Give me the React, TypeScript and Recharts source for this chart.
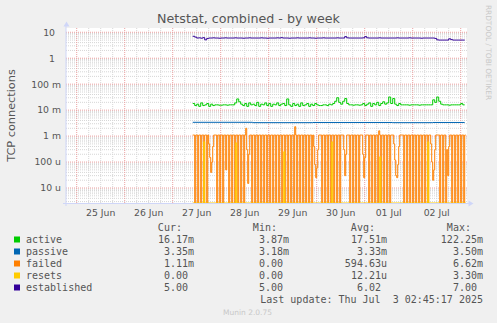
import React from 'react';
import { LineChart, Line, XAxis, YAxis, CartesianGrid } from 'recharts';

// ---------- chart constants ----------
const W = 497;
const H = 323;
const FONT = 'DejaVu Sans';
const MONO = 'DejaVu Sans Mono';
const TEXT = '#555555';

// time axis: days counted from 25 Jun 00:00
const xDomain: [number, number] = [-0.223, 8.131];
const yDomain: [number, number] = [2.65e-6, 14.6];
const dataStart = 2.4167; // 27 Jun ~10:00

const dayLabels = ['25 Jun', '26 Jun', '27 Jun', '28 Jun', '29 Jun', '30 Jun', '01 Jul', '02 Jul'];
const dayLabelTicks = [0.5, 1.5, 2.5, 3.5, 4.5, 5.5, 6.5, 7.5];
const yTicks = [1e-5, 1e-4, 1e-3, 1e-2, 1e-1, 1, 10];
const yTickLabels = ['10 u', '100 u', '1 m', '10 m', '100 m', '1', '10'];

// ---------- series ----------
// active, hourly, in milli-connections
const activeMilli = [
  18, 15, 17, 14, 19, 15, 16, 18, 14, 17, 15,
  16, 16, 15.5, 15.5, 16, 16, 15.5, 16, 16, 16,
  19, 27, 21, 17,
  15, 18, 14, 19, 16, 17, 15, 20, 14, 17, 16, 19, 15, 18, 14, 17, 16, 19, 15, 17, 18, 15,
  27,
  16, 14, 18, 15, 17, 14, 19, 15, 16, 18, 14, 17, 15, 18, 16, 15,
  15, 16, 16, 15, 17, 16,
  18, 22, 30, 20, 17, 22, 28, 18,
  16, 16, 15.5, 16, 16, 15.5, 16,
  18, 15, 17, 19, 14, 18, 16, 20, 15, 18, 21, 17, 19,
  32, 18, 28,
  17, 15, 18, 16,
  16, 16, 16, 15.5, 16, 16, 16, 16, 15.5, 16, 16, 16, 16, 16, 16,
  25, 20, 32, 22,
  17, 16, 16, 16, 15.5, 16, 16, 16, 16, 16, 18, 16, 16,
];

// passive, step points: [hour index, milli]
const passivePoints: [number, number][] = [
  [0, 3.4], [30, 3.3], [60, 3.35], [100, 3.3], [120, 3.35], [136, 3.35],
];

// failed, every 30 minutes, in milli
const failedMilli = [
  1.1, 1.1, 0, 1.1, 1.1, 0, 1.1, 1.1, 0, 1.1, 1.1, 0, 1.1, 1.1, 0,
  1.1, 0.5, 0.15, 0.04, 0.1, 0.4, 1.1,
  1.1, 1.1, 0, 1.1, 1.1, 0, 1.1, 1.1, 0, 1.1, 1.1, 0.05, 1.1, 1.1, 0, 1.1, 1.1, 0, 1.1, 1.1, 0, 1.1, 1.1, 0, 1.1, 1.1, 0, 1.1, 1.1, 0, 1.1,
  2.0,
  0.3, 0.015, 0.2,
  1.1, 1.1, 0, 1.1, 1.1, 0, 1.1, 1.1, 0, 1.1, 1.1, 0, 1.1, 1.1, 0, 1.1, 1.1, 0, 1.1, 1.1, 0, 1.1, 1.1, 0, 1.1, 1.1, 0, 1.1, 1.1, 0,
  1.1, 1.1, 0, 1.1, 1.1, 0, 1.1, 1.1, 0, 1.1, 1.1, 0, 1.1, 1.1, 0, 2.3, 1.1, 0, 1.1, 1.1, 0, 1.1, 1.1, 0, 1.1, 1.1, 0, 1.1, 1.1, 0, 1.1, 1.1, 0,
  1.1, 0.4, 0.08, 0.025, 0.06, 0.3, 1.1,
  1.1, 1.1, 0, 1.1, 1.1, 0, 1.1, 1.1, 0, 1.1, 1.1, 0, 1.1, 1.1, 0, 1.1, 1.1, 0, 1.1, 1.1, 0, 1.1, 1.1,
  1.1, 0.3, 0.03, 0.2, 1.1,
  1.1, 1.1, 0, 1.1, 1.1, 0, 1.1, 1.1, 0, 1.1, 1.1, 0, 1.1, 1.1,
  1.1, 0.2, 0.025, 0.15, 1.1,
  1.1, 1.1, 0, 1.1, 1.1, 0, 1.1, 1.1, 0, 1.1, 1.1, 0, 1.6, 1.1, 0, 1.1, 1.1, 0, 1.1, 1.1, 0, 1.1, 1.1, 0, 1.1,
  1.1, 1.1, 0.5, 0.12, 0.03, 0.025, 0.08, 0.4, 1.1, 1.1,
  1.1, 1.1, 0, 1.1, 1.1, 0, 1.1, 1.1, 0, 1.1, 1.1, 0, 1.1, 1.1, 0, 1.1, 1.1, 0, 1.1, 1.1, 0, 1.1, 1.1, 0, 1.1, 1.1, 0, 1.1,
  1.1, 0.5, 0.1, 0.02, 0.05, 0.3, 1.1, 1.1,
  1.1, 1.1, 0, 1.1, 1.1, 0, 1.1, 1.1, 0,
  0.3, 0.03, 0.4,
  1.1, 1.1, 0, 1.1, 1.1, 0, 1.1, 1.1, 0, 1.1, 1.1, 0, 1.1, 1.1, 0, 1.1, 1.1,
];

// resets, step points: [half-hour index, milli]
const resetsPoints: [number, number][] = [
  [0, 0], [11, 0.6], [12, 0], [43, 0.55], [44, 0], [91, 0.25], [92, 0],
  [139, 0.6], [140, 0], [187, 0.16], [188, 0], [235, 0.6], [236, 0], [273, 0],
];

// established, hourly
const established = [
  7, 6.5, 6, 6.1, 5.9, 6.2, 5.1, 5.8, 6, 6,
  6.1, 6, 6, 5.9, 6, 6, 6.1, 6, 6, 6,
  6, 6.1, 6, 6, 6, 5.9, 6, 6, 6.1, 6,
  6, 6, 6, 6, 6.1, 6, 6, 5.9, 6, 6,
  6, 6, 6.1, 6, 6.2, 6, 6, 6, 5.9, 6,
  6, 6, 6.1, 6, 6, 6, 6, 6, 6.1, 6,
  6, 5.9, 6, 6, 6, 6.1, 6, 6, 6, 6,
  6, 6, 6.1, 6, 6, 6, 6.8, 6.1, 6, 6,
  6, 6, 6, 6, 6, 6.1, 6.8, 6.1, 6, 6,
  6, 6, 6, 6.1, 6, 6, 6, 6, 6, 6,
  6, 6, 6.1, 6, 6, 6, 6, 6, 6.1, 6,
  6, 6, 6, 6, 5.9, 6, 6, 6, 6, 6,
  6, 5.8, 5.1, 5, 5, 5, 5, 5, 5.6, 5.2,
  5, 5, 5, 5, 5, 5, 5,
];

// legend
const legendNames = ['active', 'passive', 'failed', 'resets', 'established'];
const legendColors = ['#00CC00', '#0066B3', '#FF8000', '#FFCC00', '#330099'];
const legendCur = ['16.17m', '3.35m', '1.11m', '0.00', '5.00'];
const legendMin = ['3.87m', '3.18m', '0.00', '0.00', '5.00'];
const legendAvg = ['17.51m', '3.33m', '594.63u', '12.21u', '6.02'];
const legendMax = ['122.25m', '3.50m', '6.62m', '3.30m', '7.00'];
const legendHeaders = ['Cur:', 'Min:', 'Avg:', 'Max:'];
const lastUpdate = 'Last update: Thu Jul\u00A0 3 02:45:17 2025';

// ---------- built tables ----------
const floor = (v: number) => Math.max(v, yDomain[0]);
const activeData = activeMilli.map((v, h) => ({ t: dataStart + h / 24, v: floor(v * 1e-3) }));
const passiveData = passivePoints.map(([h, v]) => ({ t: dataStart + h / 24, v: floor(v * 1e-3) }));
const failedData = failedMilli.map((v, i) => ({ t: dataStart + i / 48, v: floor(v * 1e-3) }));
const resetsData = resetsPoints.map(([i, v]) => ({ t: dataStart + i / 48, v: floor(v * 1e-3) }));
const establishedData = established.map((v, h) => ({ t: dataStart + h / 24, v: floor(v) }));

// grid values
const majorX: number[] = [];
const minorX: number[] = [];
for (let d = -1; d <= 9; d++) {
  if (d >= xDomain[0] && d <= xDomain[1]) majorX.push(d);
  for (const q of [0.25, 0.5, 0.75]) {
    const v = d + q;
    if (v >= xDomain[0] && v <= xDomain[1]) minorX.push(v);
  }
}
const majorY = yTicks;
const minorY: number[] = [];
for (let e = -6; e <= 1; e++) {
  for (let m = 2; m <= 9; m++) {
    const v = m * Math.pow(10, e);
    if (v >= yDomain[0] && v <= yDomain[1]) minorY.push(v);
  }
}

function YTick(props: any) {
  const { y, payload } = props;
  let idx = 0;
  yTicks.forEach((t, i) => {
    if (Math.abs(Math.log10(t) - Math.log10(payload.value)) < 1e-6) idx = i;
  });
  const label = yTickLabels[idx];
  const hasUnit = /[a-z]$/.test(label);
  return (
    <text x={hasUnit ? 61 : 55} y={y} dy="0.36em" textAnchor="end" fontSize={9.3} fontFamily={FONT} fill={TEXT}>
      {label}
    </text>
  );
}

function XTick(props: any) {
  const { x, index } = props;
  return (
    <text x={x} y={216} textAnchor="middle" fontSize={9.3} fontFamily={FONT} fill={TEXT}>
      {dayLabels[index]}
    </text>
  );
}

const colRight = [194, 289, 387, 483];
const CH = 6.02;
const valueX = (col: number, s: string) => (/[0-9]$/.test(s) ? colRight[col] - CH : colRight[col]);

export default function App() {
  const lineProps = { type: 'stepAfter' as const, dataKey: 'v', dot: false, isAnimationActive: false, strokeWidth: 1 };
  return (
    <div style={{ position: 'absolute', left: 0, top: 0, width: W, height: H, background: '#F0F0F0', overflow: 'hidden' }}>
      <LineChart width={W} height={H} margin={{ top: 28, right: 30, left: 6, bottom: 100 }}>
        <CartesianGrid horizontalValues={minorY} verticalValues={minorX} stroke="#d6d6d6" strokeDasharray="1 1" fill="#ffffff" fillOpacity={1} />
        <CartesianGrid horizontalValues={majorY} verticalValues={majorX} stroke="#eba0a0" strokeDasharray="1 1" />
        <XAxis
          dataKey="t"
          type="number"
          domain={xDomain}
          allowDataOverflow
          ticks={dayLabelTicks}
          interval={0}
          tick={<XTick />}
          tickLine={false}
          axisLine={false}
          height={20}
        />
        <YAxis
          scale="log"
          type="number"
          domain={yDomain}
          allowDataOverflow
          ticks={yTicks}
          interval={0}
          tick={<YTick />}
          tickLine={false}
          axisLine={false}
          width={60}
        />
        <Line {...lineProps} data={activeData} stroke="#00CC00" name="active" />
        <Line {...lineProps} data={passiveData} stroke="#0066B3" name="passive" />
        <Line {...lineProps} data={failedData} stroke="#FF8000" name="failed" />
        <Line {...lineProps} data={resetsData} stroke="#FFCC00" name="resets" />
        <Line {...lineProps} data={establishedData} stroke="#330099" name="established" />
      </LineChart>
      <svg width={W} height={H} style={{ position: 'absolute', left: 0, top: 0, pointerEvents: 'none' }}>
        {/* axes with arrows */}
        <line x1={66} y1={206} x2={66} y2={26} stroke="#CFD6F8" strokeWidth={1} />
        <polygon points="63.5,26.5 69.5,26.5 66.5,21.5" fill="#CFD6F8" />
        <line x1={63} y1={203.5} x2={469} y2={203.5} stroke="#CFD6F8" strokeWidth={1} />
        <polygon points="468.5,200.5 468.5,206.5 473.5,203.5" fill="#CFD6F8" />
        {/* title & labels */}
        <text x={248.5} y={22.5} textAnchor="middle" fontSize={12.7} fontFamily={FONT} fill={TEXT}>
          Netstat, combined - by week
        </text>
        <text
          x={11}
          y={115.5}
          transform="rotate(-90 11 115.5)"
          textAnchor="middle"
          dominantBaseline="central"
          fontSize={11.3}
          fontFamily={FONT}
          fill={TEXT}
        >
          TCP connections
        </text>
        <text
          x={488.5}
          y={52.5}
          transform="rotate(90 488.5 52.5)"
          textAnchor="middle"
          dominantBaseline="central"
          fontSize={7.4}
          fontFamily={FONT}
          fill="#c8c8c8"
        >
          RRDTOOL / TOBI OETIKER
        </text>
        {/* legend */}
        {legendHeaders.map((h, c) => (
          <text key={h} x={colRight[c] - 2 * CH} y={231} textAnchor="end" fontSize={10} fontFamily={MONO} fill={TEXT}>
            {h}
          </text>
        ))}
        {legendNames.map((n, r) => {
          const base = 243 + r * 12;
          const vals = [legendCur[r], legendMin[r], legendAvg[r], legendMax[r]];
          return (
            <g key={n}>
              <rect x={14} y={base - 6.5} width={6} height={6} fill={legendColors[r]} />
              <text x={26} y={base} fontSize={10} fontFamily={MONO} fill={TEXT}>
                {n}
              </text>
              {vals.map((v, c) => (
                <text key={c} x={valueX(c, v)} y={base} textAnchor="end" fontSize={10} fontFamily={MONO} fill={TEXT}>
                  {v}
                </text>
              ))}
            </g>
          );
        })}
        <text x={483} y={303} textAnchor="end" fontSize={10} fontFamily={MONO} fill={TEXT}>
          {lastUpdate}
        </text>
        <text x={247.5} y={315} textAnchor="middle" fontSize={7.5} fontFamily={FONT} fill="#c8c8c8">
          Munin 2.0.75
        </text>
      </svg>
    </div>
  );
}
